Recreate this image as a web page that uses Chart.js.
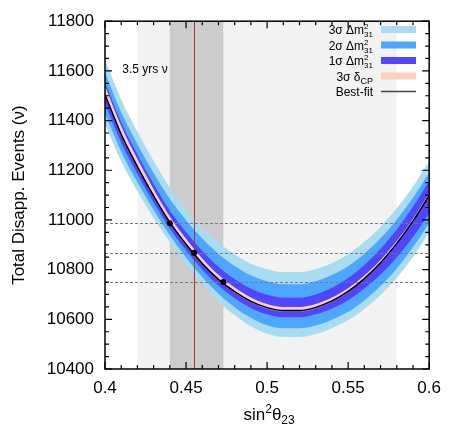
<!DOCTYPE html>
<html>
<head>
<meta charset="utf-8">
<script src="https://cdn.jsdelivr.net/npm/chart.js@4.4.1/dist/chart.umd.min.js"></script>
<style>
  html, body { margin: 0; padding: 0; background: #fff; }
  canvas { display: block; }
</style>
</head>
<body>
<canvas id="chart" width="450" height="427"></canvas>
<script>
// sin^2(theta23) sample points
const xs = [0.40, 0.41, 0.42, 0.43, 0.44, 0.45, 0.46, 0.47, 0.48, 0.49, 0.50,
            0.51, 0.52, 0.53, 0.54, 0.55, 0.56, 0.57, 0.58, 0.59, 0.60];

// best-fit total disappearance events
const bestFit = [11505, 11345, 11215, 11097, 10990, 10902, 10825, 10761, 10711, 10672, 10647,
                 10635, 10635, 10648, 10674, 10712, 10764, 10828, 10905, 10995, 11098];

// 3 sigma dm31 band edges
const up3 = [11645, 11485, 11355, 11237, 11130, 11044, 10970, 10909, 10861, 10824, 10802,
             10790, 10790, 10802, 10826, 10862, 10912, 10973, 11048, 11135, 11236];
const lo3 = [11385, 11235, 11115, 11007, 10910, 10820, 10740, 10671, 10616, 10572, 10542,
             10529, 10529, 10540, 10564, 10597, 10642, 10698, 10767, 10851, 10948];
// 2 sigma
const up2 = [11592, 11433, 11305, 11189, 11085, 10999, 10925, 10863, 10815, 10777, 10753,
             10741, 10741, 10753, 10778, 10814, 10864, 10926, 11001, 11089, 11190];
const lo2 = [11428, 11275, 11152, 11040, 10938, 10849, 10770, 10703, 10649, 10606, 10576,
             10564, 10564, 10575, 10598, 10630, 10676, 10734, 10805, 10890, 10988];
// 1 sigma
const up1 = [11553, 11393, 11263, 11145, 11038, 10951, 10875, 10811, 10762, 10723, 10699,
             10687, 10687, 10700, 10727, 10766, 10819, 10884, 10962, 11053, 11157];
const lo1 = [11468, 11312, 11185, 11070, 10966, 10878, 10801, 10736, 10685, 10646, 10620,
             10608, 10608, 10620, 10644, 10677, 10724, 10780, 10849, 10931, 11026];
// 3 sigma deltaCP band
const cpUp = [11540, 11377, 11245, 11124, 11014, 10924, 10845, 10779, 10728, 10688, 10662,
              10650, 10650, 10662, 10688, 10725, 10776, 10839, 10915, 11004, 11106];
const cpLo = [11502, 11342, 11212, 11094, 10987, 10899, 10822, 10758, 10708, 10669, 10644,
              10632, 10632, 10645, 10671, 10709, 10761, 10825, 10902, 10992, 11095];

// marked points and reference lines
const markX = [0.44, 0.455, 0.473];
const markY = [10987, 10868, 10750];
const outerRange = [0.42, 0.58];
const innerRange = [0.44, 0.473];
const trueX = 0.455;

// axes
const xTicks = [0.4, 0.45, 0.5, 0.55, 0.6];
const xTickLabels = ["0.4", "0.45", "0.5", "0.55", "0.6"];
const yTicks = [10400, 10600, 10800, 11000, 11200, 11400, 11600, 11800];

const FONT = "'Liberation Sans', Arial, Helvetica, sans-serif";
const C3 = "#a9dcf0", C2 = "#4da6ff", C1 = "#5046ff", CCP = "#fbd0bf";

const pts = arr => arr.map((v, i) => ({ x: xs[i], y: v }));

function edge(data, color, fill, order) {
  return {
    data: pts(data), borderWidth: 0, pointRadius: 0, backgroundColor: color,
    fill: fill, order: order, cubicInterpolationMode: "monotone"
  };
}

// draw text pieces (with sub/superscripts)
function drawRich(ctx, parts, xPos, base, align) {
  const widths = parts.map(p => {
    ctx.font = `${p.s}px ${FONT}`;
    if (p.sup !== undefined) {
      return Math.max(ctx.measureText(p.sup).width, ctx.measureText(p.sub).width);
    }
    return ctx.measureText(p.t).width;
  });
  const total = widths.reduce((a, b) => a + b, 0);
  let x = align === "right" ? xPos - total : xPos - total / 2;
  ctx.textAlign = "left";
  ctx.textBaseline = "alphabetic";
  ctx.fillStyle = "#000";
  parts.forEach((p, i) => {
    ctx.font = `${p.s}px ${FONT}`;
    if (p.sup !== undefined) {
      ctx.fillText(p.sup, x, base - 5);
      ctx.fillText(p.sub, x, base + 3);
    } else {
      ctx.fillText(p.t, x, base + (p.dy || 0));
    }
    x += widths[i];
  });
}

const decor = {
  id: "decor",
  beforeDatasetsDraw(chart) {
    const { ctx, chartArea: a, scales: { x } } = chart;
    ctx.save();
    ctx.fillStyle = "#f2f2f2";
    ctx.fillRect(x.getPixelForValue(outerRange[0]), a.top,
      x.getPixelForValue(outerRange[1]) - x.getPixelForValue(outerRange[0]), a.bottom - a.top);
    ctx.fillStyle = "#cccccc";
    ctx.fillRect(x.getPixelForValue(innerRange[0]), a.top,
      x.getPixelForValue(innerRange[1]) - x.getPixelForValue(innerRange[0]), a.bottom - a.top);
    ctx.restore();
  },
  beforeDatasetDraw(chart, args) {
    if (args.index !== 8) return;
    const { ctx, chartArea: a, scales: { x, y } } = chart;
    ctx.save();
    ctx.strokeStyle = "#7a7a7a";
    ctx.lineWidth = 1;
    ctx.setLineDash([3, 2]);
    for (const v of markY) {
      const py = Math.round(y.getPixelForValue(v)) + 0.5;
      ctx.beginPath(); ctx.moveTo(a.left, py); ctx.lineTo(a.right, py); ctx.stroke();
    }
    ctx.setLineDash([]);
    ctx.strokeStyle = "#a8382f";
    const px = Math.round(x.getPixelForValue(trueX)) + 0.5;
    ctx.beginPath(); ctx.moveTo(px, a.top); ctx.lineTo(px, a.bottom); ctx.stroke();
    ctx.restore();
  },
  afterDraw(chart) {
    const { ctx, chartArea: a, scales: { x, y } } = chart;
    ctx.save();
    // frame
    ctx.strokeStyle = "#000";
    ctx.lineWidth = 1.5;
    ctx.strokeRect(a.left, a.top, a.right - a.left, a.bottom - a.top);
    // inward ticks on all four sides
    ctx.lineWidth = 1.2;
    ctx.beginPath();
    for (let i = 40; i <= 60; i++) {
      const px = x.getPixelForValue(i / 100);
      const len = i % 5 === 0 ? 7 : 4;
      ctx.moveTo(px, a.bottom); ctx.lineTo(px, a.bottom - len);
      ctx.moveTo(px, a.top); ctx.lineTo(px, a.top + len);
    }
    for (let v = 10400; v <= 11800; v += 50) {
      const py = y.getPixelForValue(v);
      const len = v % 200 === 0 ? 7 : 4;
      ctx.moveTo(a.left, py); ctx.lineTo(a.left + len, py);
      ctx.moveTo(a.right, py); ctx.lineTo(a.right - len, py);
    }
    ctx.stroke();

    // legend
    const rows = [
      { parts: [{ t: "3σ Δm", s: 12 }, { sup: "2", sub: "31", s: 8 }], color: C3 },
      { parts: [{ t: "2σ Δm", s: 12 }, { sup: "2", sub: "31", s: 8 }], color: C2 },
      { parts: [{ t: "1σ Δm", s: 12 }, { sup: "2", sub: "31", s: 8 }], color: C1 },
      { parts: [{ t: "3σ δ", s: 12 }, { t: "CP", s: 9, dy: 3 }], color: CCP },
      { parts: [{ t: "Best-fit", s: 12 }], line: "#444" }
    ];
    rows.forEach((r, i) => {
      const cy = 29.5 + i * 15.5;
      drawRich(ctx, r.parts, 373, cy + 4.5, "right");
      if (r.line) {
        ctx.strokeStyle = r.line; ctx.lineWidth = 1.5;
        ctx.beginPath(); ctx.moveTo(381, cy); ctx.lineTo(416, cy); ctx.stroke();
      } else {
        ctx.fillStyle = r.color;
        ctx.fillRect(381, cy - 3.5, 35, 7);
      }
    });

    // run label
    drawRich(ctx, [{ t: "3.5 yrs ν", s: 12 }], 145, 73, "center");

    // x axis title
    drawRich(ctx, [{ t: "sin", s: 17 }, { t: "2", s: 12, dy: -7 }, { t: "θ", s: 17 },
      { t: "23", s: 12, dy: 4 }], (a.left + a.right) / 2 + 2, 420, "center");
    ctx.restore();
  }
};

new Chart(document.getElementById("chart"), {
  type: "line",
  data: {
    datasets: [
      edge(up3, C3, 1, 4), edge(lo3, C3, false, 4),
      edge(up2, C2, 3, 3), edge(lo2, C2, false, 3),
      edge(up1, C1, 5, 2), edge(lo1, C1, false, 2),
      edge(cpUp, CCP, 7, 1), edge(cpLo, CCP, false, 1),
      {
        data: pts(bestFit), borderColor: "#000", borderWidth: 1.5, pointRadius: 0,
        fill: false, order: 0, cubicInterpolationMode: "monotone"
      },
      {
        data: markX.map((v, i) => ({ x: v, y: markY[i] })), showLine: false,
        pointRadius: 3, pointBackgroundColor: "#000", pointBorderWidth: 0, order: -1
      }
    ]
  },
  options: {
    responsive: false,
    devicePixelRatio: 1,
    animation: false,
    layout: { padding: { top: 14, right: 17, left: 0, bottom: 0 } },
    plugins: { legend: { display: false }, tooltip: { enabled: false } },
    scales: {
      x: {
        type: "linear", min: 0.4, max: 0.6,
        afterBuildTicks: s => { s.ticks = xTicks.map(v => ({ value: v })); },
        afterFit: s => { s.height = 58; },
        ticks: {
          callback: (v, i) => xTickLabels[i], color: "#000", padding: 9,
          font: { family: FONT, size: 17 }, maxRotation: 0
        },
        grid: { display: false, drawTicks: false },
        border: { display: false }
      },
      y: {
        min: 10400, max: 11800,
        afterBuildTicks: s => { s.ticks = yTicks.map(v => ({ value: v })); },
        afterFit: s => { s.width = 105; },
        ticks: {
          callback: v => String(v), color: "#000", padding: 11,
          font: { family: FONT, size: 17 }
        },
        title: {
          display: true, text: "Total Disapp. Events (ν)", color: "#000",
          font: { family: FONT, size: 17 }, padding: { top: 9, bottom: 0 }
        },
        grid: { display: false, drawTicks: false },
        border: { display: false }
      }
    }
  },
  plugins: [decor]
});
</script>
</body>
</html>
